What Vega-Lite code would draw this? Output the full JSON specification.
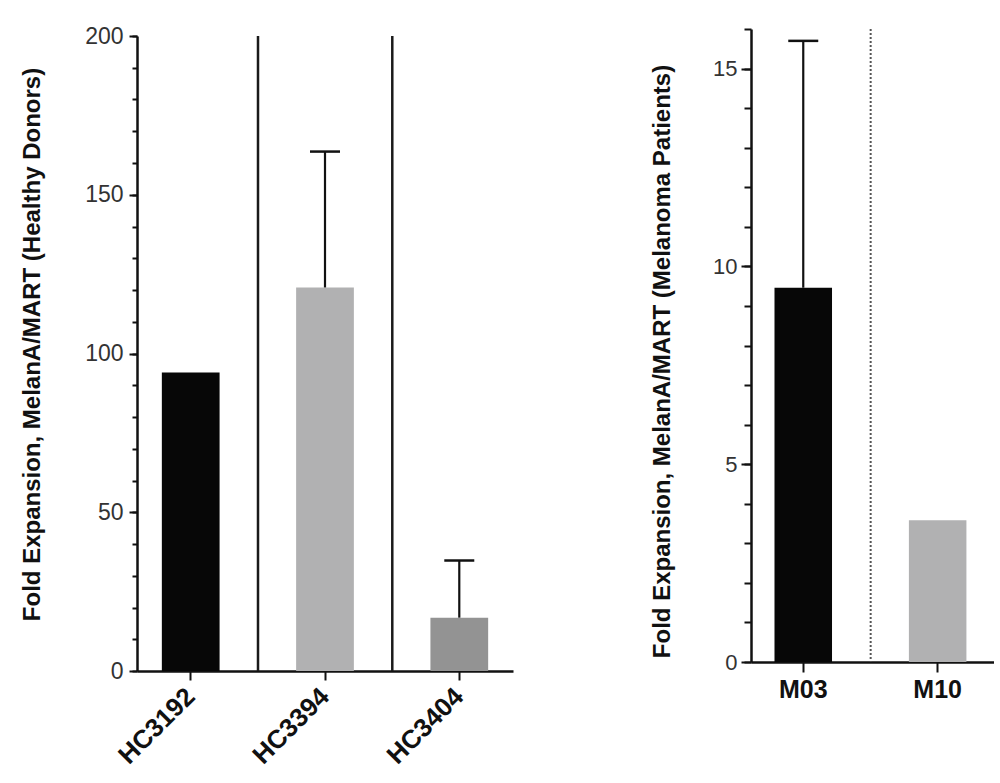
{
  "$schema": "https://vega.github.io/schema/vega-lite/v6.json",
  "padding": {"left": 20, "top": 25, "right": 0, "bottom": 0},
  "background": "white",
  "config": {
    "view": {"stroke": null},
    "font": "Liberation Sans",
    "axis": {
      "grid": false,
      "domainColor": "#111111",
      "domainWidth": 2.5,
      "tickColor": "#111111",
      "tickWidth": 2,
      "labelColor": "#333333",
      "titleColor": "#111111",
      "labelFont": "Liberation Sans",
      "titleFont": "Liberation Sans",
      "labelOverlap": false,
      "labelBound": false
    }
  },
  "spacing": 137,
  "hconcat": [
    {
      "vconcat": [
        {
          "width": 376,
          "height": 7,
          "data": {"values": []},
          "mark": "point"
        },
        {
          "width": 376,
          "height": 635,
          "data": {"values": [
            {"id": "HC3192", "value": 94.0, "upper": null},
            {"id": "HC3394", "value": 120.8, "upper": 163.6},
            {"id": "HC3404", "value": 16.8, "upper": 34.8}
          ]},
          "encoding": {
            "x": {
              "field": "id", "type": "nominal", "sort": null,
              "scale": {"paddingInner": 0.57, "paddingOuter": 0.185},
              "axis": {"title": null, "labelAngle": -45, "labelAlign": "right", "labelBaseline": "middle", "labelFontSize": 26, "labelFontWeight": "bold", "labelColor": "#111111", "tickSize": 9, "labelPadding": 12}
            }
          },
          "layer": [
            {
              "mark": {"type": "bar"},
              "encoding": {
                "y": {
                  "field": "value", "type": "quantitative",
                  "scale": {"domain": [0, 200], "nice": false},
                  "axis": {
                    "title": "Fold Expansion, MelanA/MART (Healthy Donors)",
                    "titleFontSize": 24, "titleFontWeight": "bold", "titlePadding": 40,
                    "titleY": 308,
                    "values": [0, 50, 100, 150, 200],
                    "labelFontSize": 23,
                    "tickSize": 8,
                    "labelPadding": 6,
                    "orient": "left"
                  }
                },
                "color": {
                  "field": "id", "type": "nominal", "legend": null,
                  "scale": {"domain": ["HC3192", "HC3394", "HC3404"], "range": ["#070707", "#b1b1b2", "#939393"]}
                }
              }
            },
            {
              "data": {"values": [{"id": "HC3394"}, {"id": "HC3404"}]},
              "mark": {"type": "rule", "xOffset": -67, "strokeWidth": 2.5, "color": "#1a1a1a"},
              "encoding": {
                "y": {"datum": 200, "type": "quantitative",
                  "axis": {"orient": "left", "title": null, "labels": false, "domain": false, "tickSize": 5,
                    "values": [0,10,20,30,40,50,60,70,80,90,100,110,120,130,140,150,160,170,180,190,200]}},
                "y2": {"datum": 0}
              }
            },
            {
              "transform": [{"filter": "isValid(datum.upper)"}],
              "mark": {"type": "rule", "strokeWidth": 2.2, "color": "#111111"},
              "encoding": {"y": {"field": "value", "type": "quantitative", "axis": null}, "y2": {"field": "upper"}}
            },
            {
              "transform": [{"filter": "isValid(datum.upper)"}],
              "mark": {"type": "tick", "size": 30, "thickness": 2.5, "color": "#111111", "orient": "horizontal", "opacity": 1},
              "encoding": {"y": {"field": "upper", "type": "quantitative", "axis": null}}
            }
          ],
          "resolve": {"axis": {"y": "independent"}}
        }
      ],
      "spacing": 0,
      "bounds": "flush"
    },
    {
      "width": 243,
      "height": 633,
      "data": {"values": [
        {"id": "M03", "value": 9.46, "upper": 15.7},
        {"id": "M10", "value": 3.58, "upper": null}
      ]},
      "encoding": {
        "x": {
          "field": "id", "type": "nominal", "sort": null,
          "scale": {"paddingInner": 0.572, "paddingOuter": 0.19, "align": 0.46},
          "axis": {"title": null, "labelAngle": 0, "labelFontSize": 25, "labelFontWeight": "bold", "labelColor": "#111111", "tickSize": 10, "labelPadding": 5}
        }
      },
      "layer": [
        {
          "mark": {"type": "bar"},
          "encoding": {
            "y": {
              "field": "value", "type": "quantitative",
              "scale": {"domain": [0, 16], "nice": false},
              "axis": {
                "title": "Fold Expansion, MelanA/MART (Melanoma Patients)",
                "titleFontSize": 24, "titleFontWeight": "bold", "titlePadding": 38,
                "titleY": 332,
                "values": [0, 5, 10, 15],
                "labelFontSize": 22,
                "tickSize": 10,
                "labelPadding": 4,
                "orient": "left"
              }
            },
            "color": {
              "field": "id", "type": "nominal", "legend": null,
              "scale": {"domain": ["M03", "M10"], "range": ["#070707", "#b1b1b2"]}
            }
          }
        },
        {
          "data": {"values": [{"id": "M10"}]},
          "mark": {"type": "rule", "xOffset": -67, "strokeWidth": 2, "strokeDash": [2, 2], "color": "#555555"},
          "encoding": {
            "y": {"datum": 16, "type": "quantitative",
              "axis": {"orient": "left", "title": null, "labels": false, "domain": false, "tickSize": 7,
                "values": [0,1,2,3,4,5,6,7,8,9,10,11,12,13,14,15,16]}},
            "y2": {"datum": 0}
          }
        },
        {
          "transform": [{"filter": "isValid(datum.upper)"}],
          "mark": {"type": "rule", "strokeWidth": 2.2, "color": "#111111"},
          "encoding": {"y": {"field": "value", "type": "quantitative", "axis": null}, "y2": {"field": "upper"}}
        },
        {
          "transform": [{"filter": "isValid(datum.upper)"}],
          "mark": {"type": "tick", "size": 30, "thickness": 2.5, "color": "#111111", "orient": "horizontal", "opacity": 1},
          "encoding": {"y": {"field": "upper", "type": "quantitative", "axis": null}}
        }
      ],
      "resolve": {"axis": {"y": "independent"}}
    }
  ]
}
